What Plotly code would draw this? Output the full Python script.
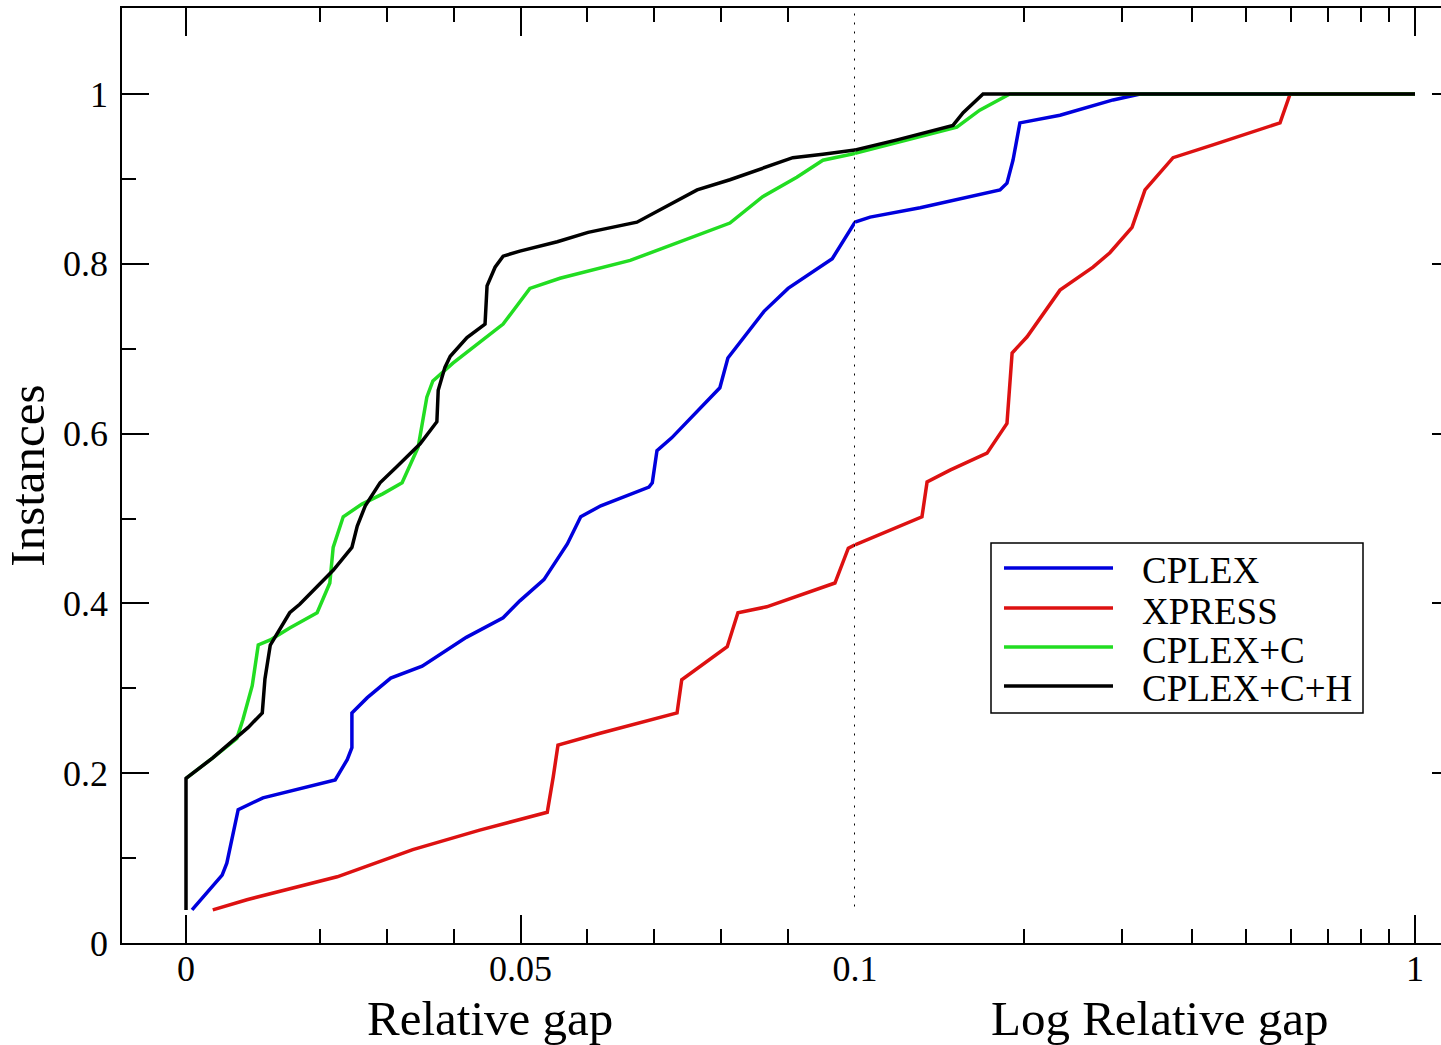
import plotly.graph_objects as go

# ---------------- data (relative gap, fraction of instances) ----------------
series_names = ["CPLEX", "XPRESS", "CPLEX+C", "CPLEX+C+H"]
series_colors = ["#0000dd", "#dd1111", "#22dd22", "#000000"]

cplex_gap = [0.0009, 0.0054, 0.0061, 0.0078, 0.0115, 0.0190, 0.0223, 0.0241, 0.0248, 0.0248,
             0.0271, 0.0306, 0.0353, 0.0419, 0.0474, 0.0499, 0.0535, 0.0570, 0.0590, 0.0620,
             0.0692, 0.0697, 0.0704, 0.0726, 0.0798, 0.0810, 0.0864, 0.0900, 0.0966, 0.1,
             0.1064, 0.1307, 0.1605, 0.1815, 0.1868, 0.1915, 0.197, 0.2323, 0.289, 0.323, 1.0]
cplex_inst = [0.039, 0.080, 0.094, 0.157, 0.171, 0.186, 0.192, 0.216, 0.230, 0.271,
              0.289, 0.312, 0.326, 0.360, 0.383, 0.403, 0.428, 0.470, 0.502, 0.515,
              0.537, 0.542, 0.580, 0.595, 0.654, 0.689, 0.744, 0.771, 0.806, 0.849,
              0.855, 0.866, 0.879, 0.887, 0.895, 0.922, 0.966, 0.975, 0.993, 1.0, 1.0]

xpress_gap = [0.0040, 0.0091, 0.0226, 0.0339, 0.0439, 0.0540, 0.0549, 0.0556, 0.0619, 0.0734,
              0.0741, 0.0768, 0.0809, 0.0825, 0.0868, 0.0970, 0.0990, 0.1, 0.1051, 0.1317,
              0.1345, 0.1478, 0.1721, 0.1868, 0.1908, 0.2029, 0.2323, 0.2661, 0.2852, 0.3124,
              0.3295, 0.3698, 0.4357, 0.5136, 0.5741, 0.5984, 1.0]
xpress_inst = [0.039, 0.051, 0.078, 0.110, 0.133, 0.154, 0.196, 0.233, 0.247, 0.271,
               0.310, 0.325, 0.349, 0.389, 0.396, 0.424, 0.465, 0.469, 0.475, 0.502,
               0.543, 0.557, 0.577, 0.612, 0.695, 0.714, 0.769, 0.796, 0.813, 0.843,
               0.887, 0.925, 0.940, 0.955, 0.966, 1.0, 1.0]

cplexc_gap = [0.0, 0.0040, 0.0076, 0.0085, 0.0099, 0.0108, 0.0126, 0.0155, 0.0196, 0.0215,
              0.0220, 0.0235, 0.0263, 0.0294, 0.0323, 0.0347, 0.0360, 0.0369, 0.0399, 0.0439,
              0.0474, 0.0514, 0.0559, 0.0664, 0.0813, 0.0862, 0.0913, 0.0952, 0.1, 0.1189,
              0.152, 0.167, 0.189, 1.0]
cplexc_inst = [0.194, 0.218, 0.241, 0.263, 0.303, 0.351, 0.357, 0.371, 0.389, 0.424,
               0.466, 0.502, 0.517, 0.529, 0.542, 0.584, 0.643, 0.662, 0.683, 0.708,
               0.729, 0.771, 0.783, 0.804, 0.848, 0.879, 0.902, 0.922, 0.930, 0.943,
               0.961, 0.981, 1.0, 1.0]

cplexch_gap = [0.0, 0.0, 0.0040, 0.0070, 0.0093, 0.0114, 0.0118, 0.0126, 0.0141, 0.0155,
               0.0170, 0.0196, 0.0220, 0.0248, 0.0256, 0.0268, 0.0290, 0.0315, 0.0350, 0.0375,
               0.0377, 0.0387, 0.0395, 0.0420, 0.0447, 0.0450, 0.0462, 0.0474, 0.0499, 0.0555,
               0.0601, 0.0674, 0.0728, 0.0764, 0.0813, 0.0888, 0.0907, 0.0952, 0.1, 0.1189,
               0.1496, 0.156, 0.1693, 1.0]
cplexch_inst = [0.039, 0.194, 0.218, 0.239, 0.254, 0.271, 0.311, 0.351, 0.370, 0.389,
                0.399, 0.420, 0.439, 0.466, 0.491, 0.515, 0.542, 0.561, 0.588, 0.614,
                0.651, 0.678, 0.691, 0.713, 0.729, 0.774, 0.796, 0.809, 0.815, 0.826,
                0.837, 0.849, 0.872, 0.887, 0.899, 0.920, 0.925, 0.929, 0.934, 0.946,
                0.963, 0.978, 1.0, 1.0]

lin_tickvals = [0, 0.05, 0.1]
lin_ticktext = ["0", "0.05", "0.1"]
lin_minor = [0.02, 0.03, 0.04, 0.06, 0.07, 0.08, 0.09]
log_tickvals = [1]
log_ticktext = ["1"]
log_minor = [0.2, 0.3, 0.4, 0.5, 0.6, 0.7, 0.8, 0.9]
y_tickvals = [0, 0.2, 0.4, 0.6, 0.8, 1.0]
y_ticktext = ["0", "0.2", "0.4", "0.6", "0.8", "1"]
y_minor = [0.1, 0.3, 0.5, 0.7, 0.9]

BREAK = 0.1  # linear scale below, log scale above

# ---------------- layout geometry ----------------
W, H = 1441, 1045
ML, MR, MT, MB = 122, 0, 8, 102
PW, PH = W - ML - MR, H - MT - MB
SPLIT = (855 - ML) / PW
FONT = "Liberation Serif, Times New Roman, serif"


def px(xp):
    return (xp - ML) / PW


def py(yp):
    return (H - MB - yp) / PH


fig = go.Figure()

all_series = [(cplex_gap, cplex_inst), (xpress_gap, xpress_inst),
              (cplexc_gap, cplexc_inst), (cplexch_gap, cplexch_inst)]

for name, color, (gx, gy) in zip(series_names, series_colors, all_series):
    lx = [x for x in gx if x <= BREAK]
    ly = [y for x, y in zip(gx, gy) if x <= BREAK]
    rx = [x for x in gx if x >= BREAK]
    ry = [y for x, y in zip(gx, gy) if x >= BREAK]
    fig.add_trace(go.Scatter(x=lx, y=ly, xaxis="x", yaxis="y", mode="lines",
                             line=dict(color=color, width=3.5), name=name,
                             legendgroup=name, showlegend=False))
    fig.add_trace(go.Scatter(x=rx, y=ry, xaxis="x2", yaxis="y2", mode="lines",
                             line=dict(color=color, width=3.5), name=name,
                             legendgroup=name, showlegend=False))

tickfont = dict(family=FONT, size=36, color="black")
common_x = dict(showline=True, linecolor="black", linewidth=1.5, mirror="ticks",
                ticks="inside", ticklen=28, tickwidth=1.5, tickcolor="black",
                showgrid=False, zeroline=False, tickfont=tickfont, ticklabelstandoff=-7,
                automargin=False)

fig.update_layout(
    width=W, height=H, autosize=False,
    margin=dict(l=ML, r=MR, t=MT, b=MB, pad=0, autoexpand=False),
    paper_bgcolor="white", plot_bgcolor="white",
    showlegend=False,
    xaxis=dict(domain=[0, SPLIT], range=[(ML - 186) / 6690, BREAK], anchor="y",
               tickmode="array", tickvals=lin_tickvals, ticktext=lin_ticktext,
               minor=dict(tickmode="array", tickvals=lin_minor, ticks="inside", ticklen=14,
                          tickwidth=1.5, tickcolor="black", showgrid=False),
               **common_x),
    xaxis2=dict(domain=[SPLIT, 1], type="log", range=[-1, -1 + (W - 855) / 560], anchor="y2",
                tickmode="array", tickvals=log_tickvals, ticktext=log_ticktext,
                minor=dict(tickmode="array", tickvals=log_minor, ticks="inside", ticklen=14,
                           tickwidth=1.5, tickcolor="black", showgrid=False),
                **common_x),
    yaxis=dict(domain=[0, 1], range=[0, (H - MB - MT) / 849], anchor="x", side="left",
               showline=True, linecolor="black", linewidth=1.5,
               ticks="inside", ticklen=27, tickwidth=1.5, tickcolor="black",
               tickmode="array", tickvals=y_tickvals, ticktext=y_ticktext,
               minor=dict(tickmode="array", tickvals=y_minor, ticks="inside", ticklen=14,
                          tickwidth=1.5, tickcolor="black", showgrid=False),
               showgrid=False, zeroline=False, tickfont=tickfont, ticklabelstandoff=5,
               automargin=False,
               title=dict(text="Instances", font=dict(family=FONT, size=49, color="black"),
                          standoff=3)),
    yaxis2=dict(domain=[0, 1], matches="y", anchor="x2", side="right",
                showline=False, ticks="inside", ticklen=9, tickwidth=1.5, tickcolor="black",
                tickmode="array", tickvals=y_tickvals, showticklabels=False,
                showgrid=False, zeroline=False, automargin=False),
)

# dotted separator at the linear/log break
fig.add_shape(type="line", xref="x", yref="y", x0=BREAK, x1=BREAK, y0=0.043,
              y1=(H - MB - MT) / 849, line=dict(color="#000000", width=2, dash="2px,7px"))

# axis titles for the two x scales
fig.add_annotation(text="Relative gap", xref="paper", yref="paper", x=px(490), y=py(1018),
                   xanchor="center", yanchor="middle", showarrow=False,
                   font=dict(family=FONT, size=49, color="black"))
fig.add_annotation(text="Log Relative gap", xref="paper", yref="paper", x=px(1159), y=py(1018),
                   xanchor="center", yanchor="middle", showarrow=False,
                   font=dict(family=FONT, size=49, color="black"))

# legend box
fig.add_shape(type="rect", xref="paper", yref="paper", x0=px(991), x1=px(1363),
              y0=py(713), y1=py(543), line=dict(color="black", width=1.5),
              fillcolor="white", layer="above")
legend_rows = [568, 608, 647, 686]
for name, color, yr in zip(series_names, series_colors, legend_rows):
    fig.add_shape(type="line", xref="paper", yref="paper", x0=px(1004), x1=px(1113),
                  y0=py(yr), y1=py(yr), line=dict(color=color, width=3.5), layer="above")
    fig.add_annotation(text=name, xref="paper", yref="paper", x=px(1140), y=py(yr + 3),
                       xanchor="left", yanchor="middle", showarrow=False,
                       font=dict(family=FONT, size=37, color="black"))

fig.write_html(
    "out.html",
    config={"responsive": False, "displayModeBar": False},
    post_script="document.body.style.margin='0';document.body.style.padding='0';"
                "document.body.style.overflow='hidden';"
                "document.documentElement.style.overflow='hidden';",
)
